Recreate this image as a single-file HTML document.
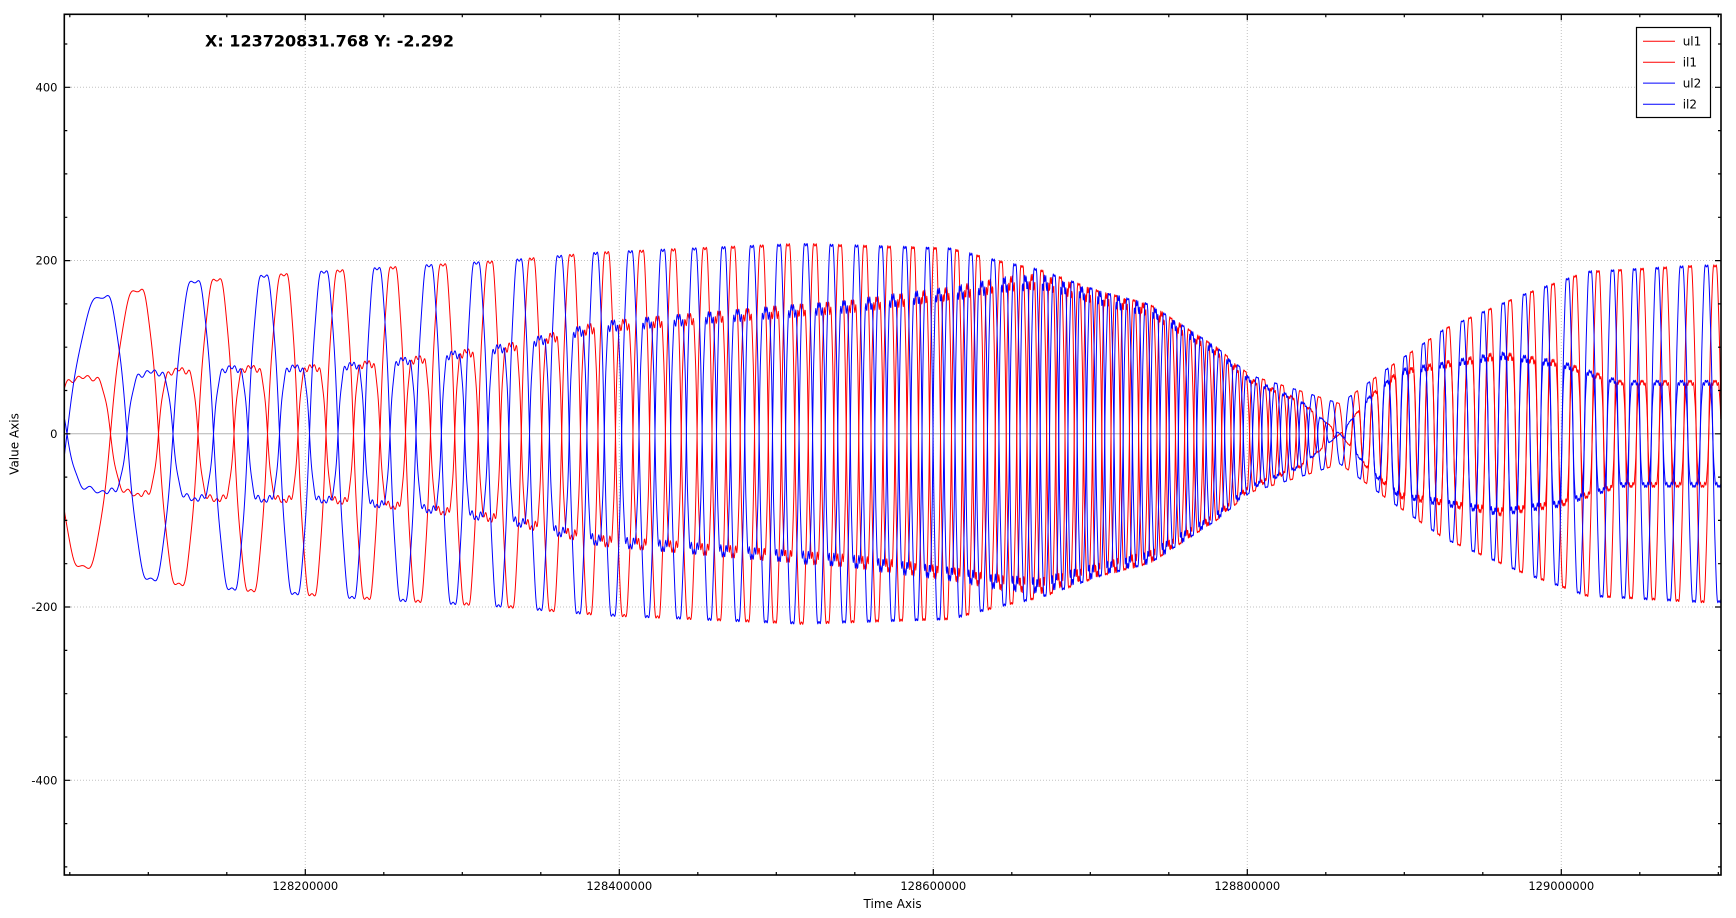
<!DOCTYPE html>
<html><head><meta charset="utf-8"><title>chart</title>
<style>
html,body{margin:0;padding:0;background:#fff;}
svg{display:block;}
text{font-family:"DejaVu Sans","Liberation Sans",sans-serif;fill:#000;}
</style></head><body>
<svg id="c" width="1736" height="918" viewBox="0 0 1736 918" xmlns="http://www.w3.org/2000/svg">
<rect x="0" y="0" width="1736" height="918" fill="#fff"/>
<defs><clipPath id="pc"><rect x="64.3" y="14.3" width="1656.7" height="860.7"/></clipPath></defs>
<g stroke="#c2c2c2" stroke-width="1" stroke-dasharray="1,2" fill="none">
<line x1="305.3" y1="15" x2="305.3" y2="875"/>
<line x1="619.3" y1="15" x2="619.3" y2="875"/>
<line x1="933.3" y1="15" x2="933.3" y2="875"/>
<line x1="1247.3" y1="15" x2="1247.3" y2="875"/>
<line x1="1561.3" y1="15" x2="1561.3" y2="875"/>
<line x1="65" y1="87.3" x2="1721" y2="87.3"/>
<line x1="65" y1="260.5" x2="1721" y2="260.5"/>
<line x1="65" y1="607" x2="1721" y2="607"/>
<line x1="65" y1="780.3" x2="1721" y2="780.3"/>
</g>
<line x1="65" y1="433.8" x2="1721" y2="433.8" stroke="#b4b4b4" stroke-width="1"/>
<g id="series" clip-path="url(#pc)" fill="none" stroke-width="1" stroke-linejoin="round"></g>
<rect x="64.3" y="14.3" width="1656.7" height="860.7" fill="none" stroke="#000" stroke-width="1.6"/>
<g id="ticks" stroke="#000" stroke-width="1.2"></g>
<g font-size="11.5" text-anchor="end">
<text x="57.5" y="91.5">400</text>
<text x="57.5" y="264.7">200</text>
<text x="57.5" y="438">0</text>
<text x="57.5" y="611.2">-200</text>
<text x="57.5" y="784.5">-400</text>
</g>
<g font-size="11.5" text-anchor="middle">
<text x="305.3" y="890">128200000</text>
<text x="619.3" y="890">128400000</text>
<text x="933.3" y="890">128600000</text>
<text x="1247.3" y="890">128800000</text>
<text x="1561.3" y="890">129000000</text>
</g>
<text x="892.6" y="908" font-size="12" text-anchor="middle">Time Axis</text>
<text transform="translate(18.5,444) rotate(-90)" font-size="12" text-anchor="middle">Value Axis</text>
<text x="205" y="46.5" font-size="16" font-weight="bold">X: 123720831.768 Y: -2.292</text>
<rect x="1636.5" y="27.5" width="74" height="90" fill="#fff" stroke="#000" stroke-width="1.2"/>
<line x1="1643" y1="41.3" x2="1675" y2="41.3" stroke="#ff0000" stroke-width="1"/>
<line x1="1643" y1="62.2" x2="1675" y2="62.2" stroke="#ff0000" stroke-width="1"/>
<line x1="1643" y1="83.1" x2="1675" y2="83.1" stroke="#0000ff" stroke-width="1"/>
<line x1="1643" y1="104.2" x2="1675" y2="104.2" stroke="#0000ff" stroke-width="1"/>
<g font-size="12">
<text x="1682.7" y="45.5">ul1</text>
<text x="1682.7" y="66.4">il1</text>
<text x="1682.7" y="87.3">ul2</text>
<text x="1682.7" y="108.4">il2</text>
</g>
</svg>
<script>
(function(){
var NS="http://www.w3.org/2000/svg";
var PI=Math.PI;
var X0=64.3,X1=1721,Y0=433.8,K=0.8663;
function lin(p,x){var n=p.length,i=1;while(i<n-1&&x>p[i][0])i++;var a=p[i-1],b=p[i];return a[1]+(b[1]-a[1])*(x-a[0])/(b[0]-a[0]);}
var tg=document.getElementById("ticks");var td="";
var xs=[305.3,619.3,933.3,1247.3,1561.3];
for(var i=0;i<22;i++){var x=69.8+78.5*i;if(x>1721)break;var maj=false;for(var j=0;j<xs.length;j++)if(Math.abs(xs[j]-x)<1)maj=true;var l=maj?6:3;
 td+="M"+x.toFixed(1)+" 875V"+(875-l)+"M"+x.toFixed(1)+" 14.3V"+(14.3+l);}
for(var k=-10;k<=10;k++){var y=Y0+43.31*k;if(y<15||y>874)continue;var maj=(k%4===0);var l=maj?6:3;
 td+="M64.3 "+y.toFixed(1)+"H"+(64.3+l)+"M1721 "+y.toFixed(1)+"H"+(1721-l);}
var tp=document.createElementNS(NS,"path");tp.setAttribute("d",td);tg.appendChild(tp);
var R=[[83,-0.5],[138,0.5],[179,1.5],[217,2.5],[251,3.5],[284,4.5],[312,5.5],[340,6.5],[367,7.5],[393,8.5],[418,9.5],[443,10.5]];
var pk=[490,531.7,571.7,606.7,641.7,673.3,705,733,761.7,788,815,840,865,889,913,935,957,978,1001,1022,1042];
var t=10.5;for(var i=0;i<pk.length;i++){t+=2;R.push([pk[i],t]);}
R.push([1200,69.67]);R.push([1340,84.72]);
t=96.5;R.push([1448,t]);
var pk2=[1470,1490,1510,1532,1553,1575,1598,1620,1642,1665,1690,1715];
for(var i=0;i<pk2.length;i++){t+=2;R.push([pk2[i],t]);}
var B=[[67,0],[103,0.5],[151,1.5],[195,2.5],[232,3.5],[264,4.5],[295,5.5],[324,6.5],[352,7.5],[377,8.5],[403,9.5],[429,10.5]];
var LEAD=[[429,0.56],[700,0.68],[1800,0.68]];
function thR(x){return lin(R,x)*PI;}
function thB(x){if(x<=429)return lin(B,x)*PI;return (lin(R,x)+lin(LEAD,x))*PI;}
var L=[[64,150],[100,158],[180,175],[250,182],[350,190],[500,200],[600,210],[700,215],[800,220],[950,215],[1000,200],[1040,190],[1100,165],[1150,150],[1217,100],[1250,68],[1300,50],[1340,35],[1390,78],[1445,122],[1520,160],[1587,188],[1700,195],[1721,195]];
var S=[[64,-65],[200,-78],[330,-80],[420,-90],[510,-105],[600,-130],[700,-140],[800,-150],[850,-155],[950,-170],[1000,-181],[1040,-185],[1100,-165],[1150,-150],[1217,-100],[1250,-65],[1300,-40],[1340,0],[1370,45],[1400,75],[1500,95],[1560,85],[1620,62],[1721,62]];
function fL(t){return Math.sin(t)+0.07*Math.sin(3*t)+0.02*Math.sin(7*t);}
function fS(t){return Math.sin(t)+0.2*Math.sin(3*t)+0.06*Math.sin(5*t)+0.03*Math.sin(11*t);}
var mL=0,mS=0;for(var i=0;i<4000;i++){var q=i/4000*2*PI;mL=Math.max(mL,fL(q));mS=Math.max(mS,fS(q));}
function build(thf,env,f,m){var d="";for(var x=X0;x<=X1+0.01;x+=0.5){var th=thf(x);var v=lin(env,x)*f(th)/m;var y=Y0-v*K;d+=(d?"L":"M")+x.toFixed(1)+" "+y.toFixed(1);}return d;}
var g=document.getElementById("series");
function add(d,c){var p=document.createElementNS(NS,"path");p.setAttribute("d",d);p.setAttribute("stroke",c);g.appendChild(p);}
add(build(thR,S,fS,mS),"#ff0000");
add(build(thR,L,fL,mL),"#ff0000");
add(build(thB,S,fS,mS),"#0000ff");
add(build(thB,L,fL,mL),"#0000ff");
})();
</script>
</body></html>
